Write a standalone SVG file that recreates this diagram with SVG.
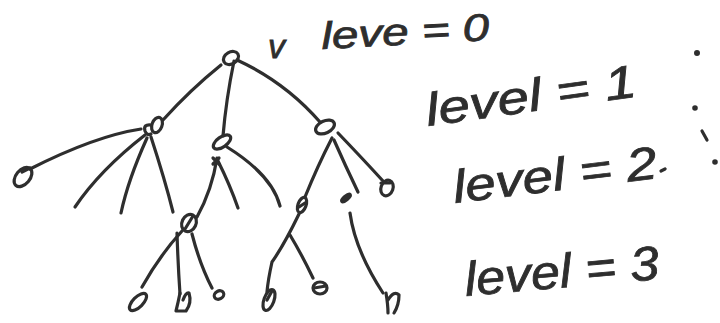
<svg xmlns="http://www.w3.org/2000/svg" width="720" height="323" viewBox="0 0 720 323">
<style>
.s{fill:none;stroke:#2e2e2e;stroke-width:3.2;stroke-linecap:round;stroke-linejoin:round}
.f{fill:#2e2e2e;stroke:#2e2e2e;stroke-width:2}
.t{font-family:"Liberation Sans",Arial,sans-serif;font-style:italic;fill:#2e2e2e;stroke:#2e2e2e;stroke-width:0.8}
</style>
<rect width="720" height="323" fill="#fff"/>
<g id="connectors" class="s">
<path d="M221,65 Q190,90 163,120"/>
<path d="M234,61 Q226,100 223,136"/>
<path d="M237,60 Q285,82 320,122"/>
<path d="M141,129 Q95,136 30,169"/>
<path d="M145,135 Q100,170 75,207"/>
<path d="M147,138 Q128,180 121,213"/>
<path d="M151,137 Q165,180 173,212"/>
<path d="M217,158 Q212,190 197,217"/>
<path d="M218,161 Q230,185 238,208"/>
<path d="M227,147 Q272,175 280,206"/>
<path d="M213,158 L219,164 M219,158 L213,164"/>
<path d="M182,231 Q160,255 142,287"/>
<path d="M177,233 Q178,265 180,294"/>
<path d="M192,234 Q200,265 212,288"/>
<path d="M332,138 Q318,165 305,197"/>
<path d="M299,214 Q284,245 272,262 Q268,280 267,292"/>
<path d="M290,235 Q302,255 313,278"/>
<path d="M334,140 Q345,165 358,192"/>
<path d="M350,213 Q355,250 383,293"/>
<path d="M338,133 Q362,158 383,181"/>
</g>
<g id="n_root"><ellipse class="s" cx="231" cy="58" rx="8" ry="6" transform="rotate(-30 231 58)"/></g>
<g id="n_l1a"><ellipse class="s" cx="157" cy="125" rx="5" ry="8" transform="rotate(20 157 125)"/><path class="s" d="M151,125 Q143,124 145,131 Q147,136 151,134"/></g>
<g id="n_l1b"><ellipse class="s" cx="222" cy="142" rx="10" ry="5" transform="rotate(-35 222 142)"/></g>
<g id="n_l1c"><ellipse class="s" cx="325" cy="127" rx="10" ry="6" transform="rotate(-25 325 127)"/></g>
<g id="n_leafA"><ellipse class="s" cx="23" cy="177" rx="7" ry="11" transform="rotate(40 23 177)"/><path class="s" d="M22,172 L30,168"/></g>
<g id="n_l2a"><ellipse class="s" cx="189" cy="223" rx="7" ry="9" transform="rotate(25 189 223)"/><path class="s" d="M185,229 L193,216"/></g>
<g id="n_leafB"><ellipse class="s" cx="138" cy="302" rx="11" ry="5" transform="rotate(-45 138 302)"/></g>
<g id="n_leafC"><path class="s" d="M180,293 Q178,303 176,311 L186,311 Q192,303 189,293 Q186,292 183,300"/></g>
<g id="n_leafD"><ellipse class="s" cx="219" cy="295" rx="5" ry="4" transform="rotate(-30 219 295)"/></g>
<g id="n_l2b"><ellipse class="s" cx="302" cy="205" rx="4" ry="8" transform="rotate(20 302 205)"/><path class="s" d="M299,207 L305,203"/></g>
<g id="n_l2c"><ellipse class="f" cx="346" cy="198" rx="6" ry="2.5" transform="rotate(-40 346 198)"/></g>
<g id="n_leafE"><ellipse class="s" cx="387" cy="188" rx="6" ry="8" transform="rotate(20 387 188)"/><path class="s" d="M381,183 L390,183"/></g>
<g id="n_leafF"><ellipse class="s" cx="269" cy="300" rx="5" ry="11" transform="rotate(20 269 300)"/><path class="s" d="M267,300 L272,291"/></g>
<g id="n_leafG"><ellipse class="s" cx="320" cy="288" rx="7" ry="6"/><path class="s" d="M314,288 L326,286"/></g>
<g id="n_leafH"><path class="s" d="M386,293 Q388,305 388,313 M388,300 Q394,290 399,295 Q399,305 394,313"/></g>
<g id="labels">
<text class="t" x="268" y="58" font-size="34">v</text>
<text class="t" x="322" y="49" font-size="38" textLength="168" lengthAdjust="spacingAndGlyphs" transform="rotate(-3 322 49)">leve = 0</text>
<text class="t" x="428" y="126" font-size="46" textLength="212" lengthAdjust="spacingAndGlyphs" transform="rotate(-8 428 126)">level = 1</text>
<text class="t" x="455" y="203" font-size="46" textLength="205" lengthAdjust="spacingAndGlyphs" transform="rotate(-7 455 203)">level = 2</text>
<text class="t" x="466" y="296" font-size="48" textLength="195" lengthAdjust="spacingAndGlyphs" transform="rotate(-5 466 296)">level = 3</text>
</g>
<g id="dots" class="f">
<circle cx="697" cy="53" r="2"/>
<circle cx="695" cy="108" r="1.8"/>
<path class="s" d="M702,131 L707,140"/>
<circle cx="715" cy="162" r="1.8"/>
<path class="s" d="M661,171 L665,169"/>
</g>
</svg>
